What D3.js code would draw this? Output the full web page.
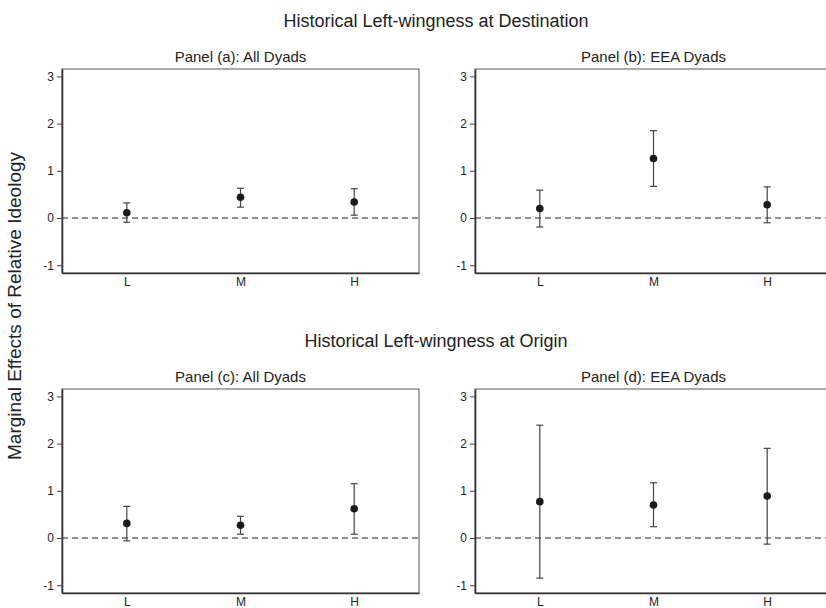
<!DOCTYPE html>
<html>
<head>
<meta charset="utf-8">
<script src="https://cdn.jsdelivr.net/npm/d3@7"></script>
<style>
  body { margin: 0; background: #fff; }
  svg { display: block; font-family: "Liberation Sans", Arial, Helvetica, sans-serif; }
</style>
</head>
<body>
<svg id="chart" width="826" height="608"></svg>
<script>
// categories and tick labels
var levels = ["L", "M", "H"];
var yTicks = [-1, 0, 1, 2, 3];
var sectionTitles = ["Historical Left-wingness at Destination", "Historical Left-wingness at Origin"];
var panelTitles = ["Panel (a): All Dyads", "Panel (b): EEA Dyads", "Panel (c): All Dyads", "Panel (d): EEA Dyads"];

// point estimates and confidence bounds, one row per panel
var estimates = [
  [0.11, 0.44, 0.34],
  [0.20, 1.26, 0.28],
  [0.31, 0.27, 0.62],
  [0.77, 0.70, 0.89]
];
var lowerCI = [
  [-0.09, 0.23, 0.06],
  [-0.19, 0.67, -0.10],
  [-0.06, 0.08, 0.08],
  [-0.85, 0.24, -0.13]
];
var upperCI = [
  [0.32, 0.63, 0.62],
  [0.59, 1.85, 0.66],
  [0.67, 0.46, 1.15],
  [2.39, 1.17, 1.90]
];

var svg = d3.select("#chart");

// panel boxes (right column runs past the picture edge, as in the original)
var panelW = 357, panelH = 204;
var panelX = [62, 475];
var panelY = [69, 389];

var x = d3.scaleLinear().domain([0.43, 3.57]).range([0, panelW]);
var y = d3.scaleLinear().domain([-1.165, 3.157]).range([panelH, 0]);

// section titles
sectionTitles.forEach(function(t, i) {
  svg.append("text")
    .attr("x", 436)
    .attr("y", panelY[i] - 42)
    .attr("text-anchor", "middle")
    .style("font-size", "18px")
    .style("fill", "#222")
    .text(t);
});

// y axis label
svg.append("text")
  .attr("transform", "translate(21,306) rotate(-90)")
  .attr("text-anchor", "middle")
  .style("font-size", "19px")
  .style("fill", "#222")
  .text("Marginal Effects of Relative Ideology");

panelTitles.forEach(function(title, p) {
  var col = p % 2, row = Math.floor(p / 2);
  var g = svg.append("g")
    .attr("class", "panel")
    .attr("transform", "translate(" + panelX[col] + "," + panelY[row] + ")");

  g.append("text")
    .attr("x", panelW / 2)
    .attr("y", -7.5)
    .attr("text-anchor", "middle")
    .style("font-size", "15px")
    .style("fill", "#222")
    .text(title);

  // thin top and right frame
  g.append("rect")
    .attr("width", panelW)
    .attr("height", panelH)
    .attr("fill", "none")
    .attr("stroke", "#555")
    .attr("stroke-width", 1);

  // y axis
  var yAxis = g.append("g")
    .call(d3.axisLeft(y).tickValues(yTicks).tickSizeInner(5).tickSizeOuter(0).tickPadding(3)
      .tickFormat(function(d) { return String(d); }));
  yAxis.select(".domain").attr("stroke", "#333").attr("stroke-width", 1.6);
  yAxis.selectAll(".tick line").attr("stroke", "#444");
  yAxis.selectAll("text")
    .style("font-size", "12px")
    .style("font-family", "'Liberation Sans', Arial, sans-serif")
    .attr("fill", "#222");

  // x axis (labels only)
  var xAxis = g.append("g")
    .attr("transform", "translate(0," + panelH + ")")
    .call(d3.axisBottom(x).tickValues([1, 2, 3]).tickSize(0).tickPadding(4)
      .tickFormat(function(d) { return levels[d - 1]; }));
  xAxis.select(".domain").attr("stroke", "#333").attr("stroke-width", 1.6);
  xAxis.selectAll("text")
    .style("font-size", "12px")
    .style("font-family", "'Liberation Sans', Arial, sans-serif")
    .attr("fill", "#222");

  // dashed zero line
  g.append("line")
    .attr("x1", 0)
    .attr("x2", panelW)
    .attr("y1", y(0))
    .attr("y2", y(0))
    .attr("stroke", "#222")
    .attr("stroke-width", 1)
    .attr("stroke-dasharray", "6,4");

  var rows = levels.map(function(l, i) {
    return { pos: i + 1, est: estimates[p][i], lo: lowerCI[p][i], hi: upperCI[p][i] };
  });

  var bars = g.selectAll(".bar")
    .data(rows)
    .enter().append("g")
    .attr("class", "bar");

  bars.append("line")
    .attr("x1", function(d) { return x(d.pos); })
    .attr("x2", function(d) { return x(d.pos); })
    .attr("y1", function(d) { return y(d.lo); })
    .attr("y2", function(d) { return y(d.hi); })
    .attr("stroke", "#444")
    .attr("stroke-width", 1.2);

  ["lo", "hi"].forEach(function(k) {
    bars.append("line")
      .attr("x1", function(d) { return x(d.pos) - 3.5; })
      .attr("x2", function(d) { return x(d.pos) + 3.5; })
      .attr("y1", function(d) { return y(d[k]); })
      .attr("y2", function(d) { return y(d[k]); })
      .attr("stroke", "#444")
      .attr("stroke-width", 1.2);
  });

  bars.append("circle")
    .attr("cx", function(d) { return x(d.pos); })
    .attr("cy", function(d) { return y(d.est); })
    .attr("r", 3.8)
    .attr("fill", "#1a1a1a");
});
</script>
</body>
</html>
